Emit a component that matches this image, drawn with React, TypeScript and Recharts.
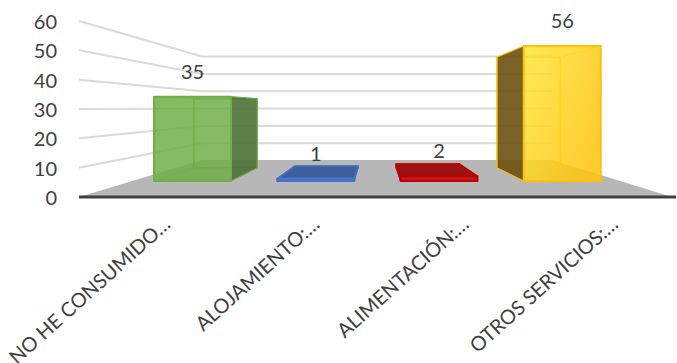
import { BarChart, Bar, XAxis, YAxis, CartesianGrid, LabelList, ReferenceArea } from 'recharts'

const categories = ['NO HE CONSUMIDO…', 'ALOJAMIENTO:…', 'ALIMENTACIÓN:…', 'OTROS SERVICIOS:…']
const values = [35, 1, 2, 56]
const yTicks = [0, 10, 20, 30, 40, 50, 60]

const data = categories.map((name, i) => ({ name, value: values[i] }))

const palette = [
  { line: '#70AD47', light: '#70AD47', dark: '#70AD47', inner: '#70AD47', side: '#4C7136' },
  { line: '#4472C4', light: '#4472C4', dark: '#4472C4', inner: '#3F5F9C', side: '#3A5FA8' },
  { line: '#C00000', light: '#C00000', dark: '#C00000', inner: '#9A1212', side: '#A00000' },
  { line: '#FFC000', light: '#FFE53A', dark: '#FFC40C', inner: '#FFC000', side: '#6C5211' },
]

// perspective used for the fake 3d box
const VP_X = 376
const VP_Y = 108
const DEPTH = 0.18
const WALL_LEFT = 202
const WALL_RIGHT = 552
const WALL_SCALE = 0.591

const back = (x: number, y: number) => [x + (VP_X - x) * DEPTH, y + (VP_Y - y) * DEPTH]
const pts = (list: number[][]) => list.map((p) => p.join(',')).join(' ')

function Box3D({ x, y, width, height, index }: any) {
  const c = palette[index]
  const l = x
  const r = x + width
  const t = y
  const b = y + height
  const blt = back(l, t)
  const brt = back(r, t)
  const blb = back(l, b)
  const brb = back(r, b)
  const outerIsRight = x + width / 2 < VP_X
  const outer = outerIsRight ? [[r, t], brt, brb, [r, b]] : [[l, t], blt, blb, [l, b]]
  const flat = height < 10
  const gradId = `front-${index}`
  return (
    <g stroke={c.line} strokeLinejoin="round">
      <defs>
        <linearGradient id={gradId} x1="0" y1="0" x2="1" y2="0.6">
          <stop offset="0%" stopColor={c.light} />
          <stop offset="100%" stopColor={c.dark} />
        </linearGradient>
      </defs>
      {/* inside edges first, they show through the front */}
      <polygon points={pts([blt, brt, brb, blb])} fill="none" strokeWidth={1.5} strokeOpacity={0.8} />
      <polyline points={pts([[l, t], blt, blb, [l, b]])} fill="none" strokeWidth={1} strokeOpacity={0.6} />
      <polyline points={pts([[r, t], brt, brb, [r, b]])} fill="none" strokeWidth={1} strokeOpacity={0.6} />
      {/* the two low bars are seen from above, so their lid is the big face */}
      {flat && <polygon points={pts([[l, t], [r, t], brt, blt])} fill={c.inner} strokeWidth={1.5} />}
      <polygon points={pts(outer)} fill={c.side} fillOpacity={0.9} strokeWidth={1} />
      <rect x={l} y={t} width={width} height={height} fill={`url(#${gradId})`} fillOpacity={0.85} stroke="none" />
      <rect x={l} y={t} width={width} height={height} fill="none" strokeWidth={2} />
    </g>
  )
}

function Floor({ x, y, width, height }: any) {
  const bottom = y + height
  return (
    <polygon
      points={pts([[x, bottom], [WALL_LEFT, y], [WALL_RIGHT, y], [x + width - 4, bottom]])}
      fill="#B7B7B7"
    />
  )
}

function WallLine({ x1, y1, index }: any) {
  if (y1 > 190) return null
  const wallY = VP_Y + (y1 - VP_Y) * WALL_SCALE
  return (
    <polyline
      key={index}
      points={pts([[x1, y1], [WALL_LEFT, wallY], [WALL_RIGHT, wallY]])}
      fill="none"
      stroke="#D9D9D9"
      strokeWidth={2}
    />
  )
}

function CategoryTick({ x, y, payload }: any) {
  return (
    <text
      x={x + 18}
      y={y + 21}
      transform={`rotate(-42 ${x + 18} ${y + 21})`}
      textAnchor="end"
      fill="#404040"
      fontSize={20}
      fontFamily="Lato"
    >
      {payload.value}
    </text>
  )
}

export default function App() {
  return (
    <div style={{ position: 'absolute', left: 0, top: 0, background: '#fff' }}>
      <BarChart width={677} height={363} data={data} margin={{ top: 21, right: 1, bottom: 0, left: 0 }} barSize={77}>
        <ReferenceArea xAxisId="labels" yAxisId="values" y1={0} y2={12.6} shape={Floor} />
        <CartesianGrid vertical={false} horizontal={WallLine} xAxisId="labels" yAxisId="values" />
        <XAxis xAxisId="bars" dataKey="name" hide height={0} padding={{ left: 52, right: 52 }} />
        <XAxis
          xAxisId="labels"
          dataKey="name"
          height={166}
          interval={0}
          tick={CategoryTick}
          tickLine={false}
          axisLine={{ stroke: '#404040', strokeWidth: 3 }}
        />
        <YAxis
          yAxisId="values"
          width={79}
          domain={[0, 60]}
          allowDataOverflow
          ticks={yTicks}
          axisLine={false}
          tickLine={false}
          tickMargin={16}
          tick={{ fill: '#404040', fontSize: 20, fontFamily: 'Lato', dy: 1 }}
        />
        {/* bars stand on the floor's front edge, so they get their own smaller scale */}
        <YAxis yAxisId="bars" hide width={0} domain={[-6.64, 66.39]} allowDataOverflow />
        <Bar dataKey="value" xAxisId="bars" yAxisId="bars" shape={Box3D} isAnimationActive={false}>
          <LabelList dataKey="value" position="top" offset={18} fill="#404040" fontSize={20} fontFamily="Lato" />
        </Bar>
      </BarChart>
    </div>
  )
}
